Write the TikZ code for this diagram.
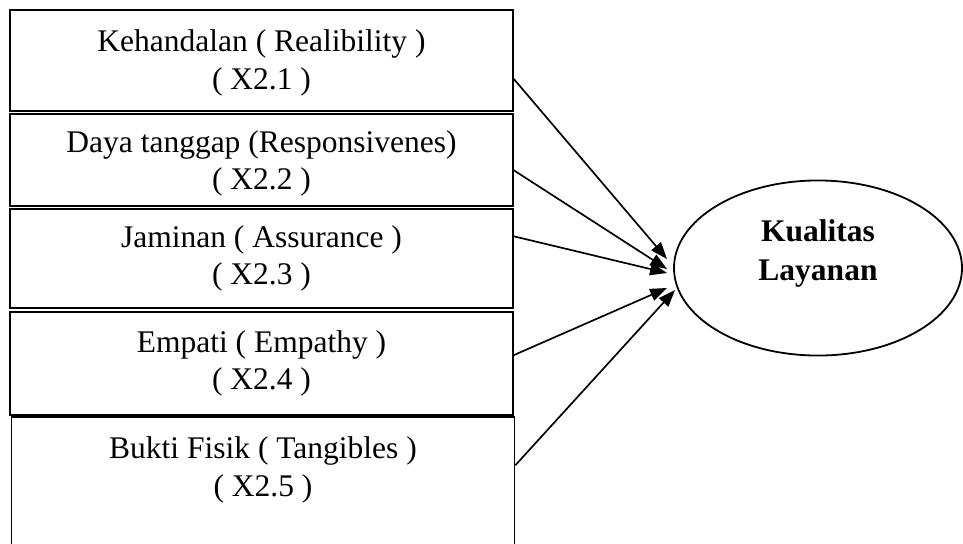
\documentclass[tikz,border=0pt]{standalone}
\usepackage{fontspec}
\setmainfont{Liberation Serif}
\usetikzlibrary{arrows.meta,calc,shapes.geometric}

\begin{document}
\begin{tikzpicture}[x=0.4444pt,y=-0.4444pt,
    every text node part/.style={align=center},
    dimbox/.style={draw,line width=0.8pt,rectangle,minimum width=223.5pt,
      inner sep=0pt,font=\fontsize{14}{16.7}\selectfont},
    latent/.style={draw,line width=0.8pt,ellipse,minimum width=128pt,
      minimum height=77.8pt,inner sep=0pt,text depth=16pt,
      font=\fontsize{14}{17}\selectfont\bfseries},
    path/.style={line width=0.75pt,-{Triangle[length=7.5pt,width=5.5pt]}}]
      \useasboundingbox (0,0) rectangle (963,543);

      \node[dimbox,minimum height=44.9pt,text depth=1pt] (RelN)  at (261.5,60.5)  {Kehandalan ( Realibility )\\( X2.1 )};
      \node[dimbox,minimum height=40.9pt,text depth=0pt] (RespN) at (261.5,160)   {Daya tanggap (Responsivenes)\\( X2.2 )};
      \node[dimbox,minimum height=44pt]   (AssN)  at (261.5,258.5) {Jaminan ( Assurance )\\( X2.3 )};
      \node[dimbox,minimum height=45.8pt] (EmpN)  at (261.5,363.5) {Empati ( Empathy )\\( X2.4 )};
      \node[dimbox,minimum height=58.2pt,text depth=14pt] (TanN) at (263,482.5) {Bukti Fisik ( Tangibles )\\( X2.5 )};

      \node[latent] (KualN) at (818,268) {Kualitas\\Layanan};

      \coordinate (tipA) at (667,259);
      \coordinate (tipB) at (667,269);
      \coordinate (tipC) at (667,273);
      \coordinate (tipD) at (667,288);
      \coordinate (tipE) at (675,290);

      \draw [path] ($(RelN.north east)!0.68!(RelN.south east)$)   -- (tipA);
      \draw [path] ($(RespN.north east)!0.61!(RespN.south east)$) -- (tipB);
      \draw [path] ($(AssN.north east)!0.28!(AssN.south east)$)   -- (tipC);
      \draw [path] ($(EmpN.north east)!0.42!(EmpN.south east)$)   -- (tipD);
      \draw [path] ($(TanN.north east)!0.37!(TanN.south east)$)   -- (tipE);
    \end{tikzpicture}
\end{document}
